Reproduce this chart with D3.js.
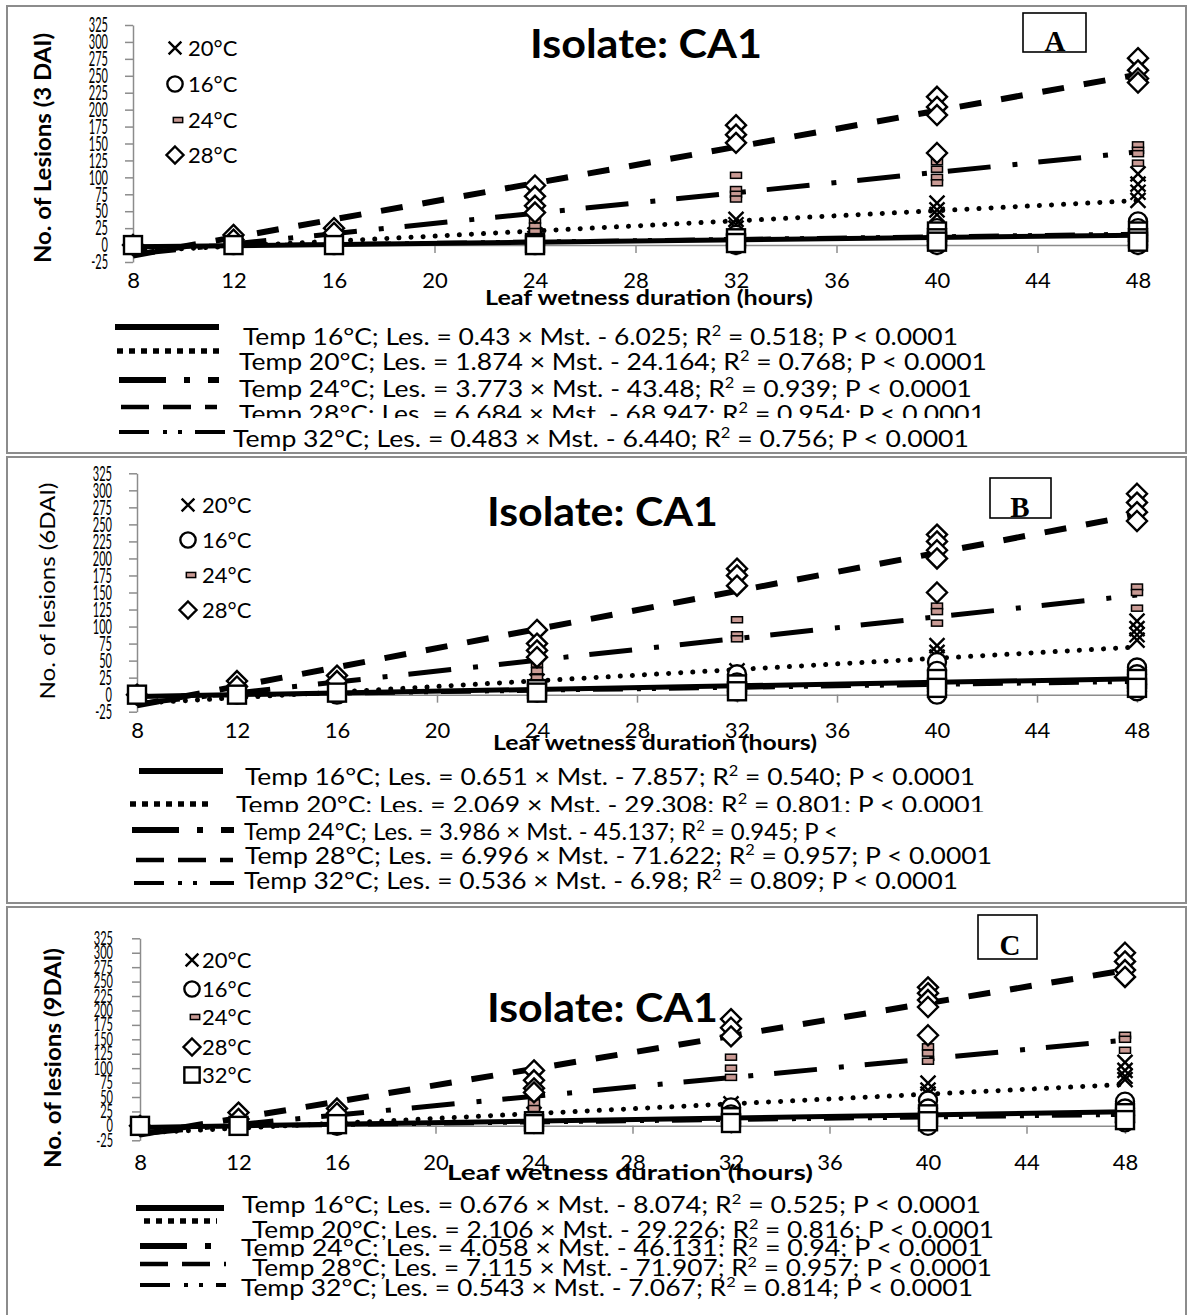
<!DOCTYPE html>
<html>
<head>
<meta charset="utf-8">
<script src="https://cdn.jsdelivr.net/npm/d3@7"></script>
<style>
body { margin: 0; background: #fff; }
text { fill: #000; }
</style>
</head>
<body>
<svg id="fig" width="1189" height="1315" font-family="Lato, 'Open Sans', sans-serif"></svg>
<script>
// ---- data ----
var hours = [8, 12, 16, 24, 32, 40, 48] ;
var xTickValues = [8, 12, 16, 20, 24, 28, 32, 36, 40, 44, 48] ;
var yTickValues = [-25, 0, 25, 50, 75, 100, 125, 150, 175, 200, 225, 250, 275, 300, 325] ;
var tempLabels = ['20°C', '16°C', '24°C', '28°C', '32°C'] ;   // series order

// replicate lesion counts, one inner list per entry of hours
var a20 = [[0], [2, 0], [5, 2], [15, 10], [38, 30, 25], [62, 52, 45], [105, 90, 78, 66]] ;
var a16 = [[0], [0], [0], [5, 0], [15, 5, 0], [25, 15, 5, 0], [35, 25, 15, 5, 0]] ;
var a24 = [[0], [3], [10, 5], [37, 28, 20], [103, 82, 75, 68], [123, 112, 100, 92], [148, 140, 135, 121]] ;
var a28 = [[0], [15, 8], [25, 18], [88, 72, 58, 48], [177, 163, 151], [219, 204, 192, 136], [276, 258, 246, 240]] ;
var a32 = [[0], [0], [0], [3, 0], [10, 3], [20, 10, 5], [20, 10, 5]] ;

var b20 = [[0], [3, 0], [8, 3], [20, 12], [35, 25], [72, 62, 55], [108, 97, 88, 80]] ;
var b16 = [[0], [0], [3, 0], [8, 3], [30, 18, 5], [48, 35, 20, 5, 0], [40, 30, 15, 5]] ;
var b24 = [[0], [5], [12, 6], [45, 35, 25], [110, 88, 82], [130, 122, 105], [158, 150, 127]] ;
var b28 = [[0], [20, 12], [28, 20], [95, 75, 65, 55], [185, 175, 160], [235, 225, 212, 200, 150], [295, 282, 268, 255]] ;
var b32 = [[0], [0], [3], [8, 3], [15, 5], [23, 10], [23, 10]] ;

var c20 = [[0], [3, 0], [8, 3], [20, 12], [38, 28], [74, 62, 55], [110, 96, 86, 80]] ;
var c16 = [[0], [0], [3, 0], [10, 3], [32, 20, 5], [44, 30, 15, 0], [42, 30, 18, 6]] ;
var c24 = [[0], [5], [12, 6], [53, 40, 30], [119, 100, 84], [137, 126, 112], [157, 150, 131]] ;
var c28 = [[0], [23, 12], [30, 22], [96, 79, 65, 58], [185, 170, 155], [240, 230, 218, 206, 157], [300, 285, 270, 258]] ;
var c32 = [[0], [0], [3], [8, 3], [15, 5], [20, 8], [22, 10]] ;

// fitted lines, order 16, 20, 24, 28, 32 °C
var slopeA = [0.43, 1.874, 3.773, 6.684, 0.483] ;
var interA = [-6.025, -24.164, -43.48, -68.947, -6.44] ;
var slopeB = [0.651, 2.069, 3.986, 6.996, 0.536] ;
var interB = [-7.857, -29.308, -45.137, -71.622, -6.98] ;
var slopeC = [0.676, 2.106, 4.058, 7.115, 0.543] ;
var interC = [-8.074, -29.226, -46.131, -71.907, -7.067] ;

var eqA = [
	'Temp 16°C; Les. = 0.43 × Mst. - 6.025; R² = 0.518; P < 0.0001',
	'Temp 20°C; Les. = 1.874 × Mst. - 24.164; R² = 0.768; P < 0.0001',
	'Temp 24°C; Les. = 3.773 × Mst. - 43.48; R² = 0.939; P < 0.0001',
	'Temp 28°C; Les. = 6.684 × Mst. - 68.947; R² = 0.954; P < 0.0001',
	'Temp 32°C; Les. = 0.483 × Mst. - 6.440; R² = 0.756; P < 0.0001'
] ;
var eqB = [
	'Temp 16°C; Les. = 0.651 × Mst. - 7.857; R² = 0.540; P < 0.0001',
	'Temp 20°C; Les. = 2.069 × Mst. - 29.308; R² = 0.801; P < 0.0001',
	'Temp 24°C; Les. = 3.986 × Mst. - 45.137; R² = 0.945; P <',
	'Temp 28°C; Les. = 6.996 × Mst. - 71.622; R² = 0.957; P < 0.0001',
	'Temp 32°C; Les. = 0.536 × Mst. - 6.98; R² = 0.809; P < 0.0001'
] ;
var eqC = [
	'Temp 16°C; Les. = 0.676 × Mst. - 8.074; R² = 0.525; P < 0.0001',
	'Temp 20°C; Les. = 2.106 × Mst. - 29.226; R² = 0.816; P < 0.0001',
	'Temp 24°C; Les. = 4.058 × Mst. - 46.131; R² = 0.94; P < 0.0001',
	'Temp 28°C; Les. = 7.115 × Mst. - 71.907; R² = 0.957; P < 0.0001',
	'Temp 32°C; Les. = 0.543 × Mst. - 7.067; R² = 0.814; P < 0.0001'
] ;

// ---- styles ----
var GRAY = '#8c8c8c' ;
var shapes = ['cross', 'circle', 'dash', 'diamond', 'square'] ;
// trend line styles, order 16, 20, 24, 28, 32
var plotDash = [null, '0.1,12', '43,22,5,21', '22,20', '30,14,4,11,4,13'] ;
var plotWidth = [5, 5, 5, 6, 4] ;
var plotCap = ['butt', 'round', 'butt', 'butt', 'butt'] ;
var legDash = [null, '6,6', '47,18,6,18', '28,14', '30,14,4,11,4,13'] ;
var legWidth = [6, 5.5, 6, 4.5, 4] ;

var svg = d3.select('#fig') ;
var clipId = 0 ;

function marker(g, shape, cx, cy, k) {
	if ( shape == 'cross' ) {
		var s = 7.5 * k ;
		g.append('path').attr('d', 'M' + (cx-s) + ',' + (cy-s) + 'L' + (cx+s) + ',' + (cy+s) + 'M' + (cx-s) + ',' + (cy+s) + 'L' + (cx+s) + ',' + (cy-s))
			.attr('stroke', '#000').attr('stroke-width', 2.4).attr('fill', 'none') ;
	} else if ( shape == 'circle' ) {
		g.append('circle').attr('cx', cx).attr('cy', cy).attr('r', 9 * k)
			.attr('fill', '#fff').attr('stroke', '#000').attr('stroke-width', 2.4) ;
	} else if ( shape == 'dash' ) {
		g.append('rect').attr('x', cx - 5.5 * k).attr('y', cy - 3 * k).attr('width', 11 * k).attr('height', 6 * k)
			.attr('fill', '#c99a94').attr('stroke', '#000').attr('stroke-width', 1.5) ;
	} else if ( shape == 'diamond' ) {
		var d = 10 * k ;
		g.append('path').attr('d', 'M' + cx + ',' + (cy-d) + 'L' + (cx+d) + ',' + cy + 'L' + cx + ',' + (cy+d) + 'L' + (cx-d) + ',' + cy + 'Z')
			.attr('fill', '#fff').attr('stroke', '#000').attr('stroke-width', 2.4) ;
	} else {
		var q = 9 * k ;
		g.append('rect').attr('x', cx - q).attr('y', cy - q).attr('width', 2*q).attr('height', 2*q)
			.attr('fill', '#fff').attr('stroke', '#000').attr('stroke-width', 2.4) ;
	}
}

function drawPanel(cfg, series, slopes, inters, eqTexts) {
	var g = svg.append('g') ;
	var f = cfg.frame ;
	g.append('rect').attr('x', f[0]).attr('y', f[1]).attr('width', f[2]-f[0]).attr('height', f[3]-f[1])
		.attr('fill', 'none').attr('stroke', GRAY).attr('stroke-width', 2) ;

	var x = d3.scaleLinear().domain([8, 48]).range([cfg.x0, cfg.x1]) ;
	var y = d3.scaleLinear().domain([-25, 325]).range([cfg.yBot, cfg.yTop]) ;

	// y axis
	var ya = g.append('g').attr('transform', 'translate(' + cfg.x0 + ',0)')
		.call(d3.axisLeft(y).tickValues(yTickValues).tickSize(8).tickSizeOuter(0)
			.tickPadding(cfg.x0 - 8 - cfg.yLabelRight).tickFormat(function(d) { return String(d) ; })) ;
	ya.attr('font-family', null).attr('font-size', null) ;
	ya.select('.domain').attr('stroke', GRAY).attr('stroke-width', 1.5) ;
	ya.selectAll('.tick line').attr('stroke', GRAY).attr('stroke-width', 1.5) ;
	ya.selectAll('.tick text').attr('font-size', cfg.yTickFont).attr('fill', '#000')
		.attr('textLength', function(d) { return String(Math.abs(d)).length * 6.4 + (d < 0 ? 4 : 0) ; })
		.attr('lengthAdjust', 'spacingAndGlyphs') ;

	// x axis crossing at 0, labels low
	var xa = g.append('g').attr('transform', 'translate(0,' + y(0) + ')')
		.call(d3.axisBottom(x).tickValues(xTickValues).tickSize(8).tickSizeOuter(0)) ;
	xa.attr('font-family', null).attr('font-size', null) ;
	xa.select('.domain').attr('stroke', GRAY).attr('stroke-width', 1.5) ;
	xa.selectAll('.tick line').attr('stroke', GRAY).attr('stroke-width', 1.5) ;
	xa.selectAll('.tick text').attr('y', cfg.xLabelY - y(0)).attr('dy', null)
		.attr('font-size', 22).attr('fill', '#000') ;

	// trend lines
	var line = d3.line().x(function(d) { return x(d[0]) ; }).y(function(d) { return y(d[1]) ; }) ;
	for ( var i = 0 ; i < slopes.length ; ++i ) {
		var pts = [8, 48].map(function(h) { return [h, slopes[i] * h + inters[i]] ; }) ;
		g.append('path').attr('d', line(pts)).attr('fill', 'none').attr('stroke', '#000')
			.attr('stroke-width', plotWidth[i]).attr('stroke-linecap', plotCap[i])
			.attr('stroke-dasharray', plotDash[i]) ;
	}

	// markers
	var mg = g.append('g') ;
	series.forEach(function(s, si) {
		hours.forEach(function(h, hi) {
			s[hi].forEach(function(v) { marker(mg, shapes[si], x(h), y(v), 1) ; }) ;
		}) ;
	}) ;

	// marker legend
	var L = cfg.legend ;
	for ( var j = 0 ; j < L.n ; ++j ) {
		marker(g, shapes[j], L.mx + (shapes[j] == 'dash' ? 3 : 0), L.ys[j], 0.85) ;
		g.append('text').attr('x', L.tx).attr('y', L.ys[j]).attr('dy', '0.36em')
			.attr('font-size', L.font).text(tempLabels[j]) ;
	}

	// equation legend
	var e = cfg.eq ;
	eqTexts.forEach(function(s, k) {
		g.append('line').attr('x1', e.lx1[k]).attr('x2', e.lx2[k]).attr('y1', e.ly[k]).attr('y2', e.ly[k])
			.attr('stroke', '#000').attr('stroke-width', legWidth[k]).attr('stroke-dasharray', legDash[k]) ;
		var parts = s.split('²') ;
		var t = g.append('text').attr('x', e.tx[k]).attr('y', e.ty[k]).attr('font-size', e.font)
			.attr('textLength', e.tend[k] - e.tx[k]).attr('lengthAdjust', 'spacingAndGlyphs') ;
		t.append('tspan').text(parts[0]) ;
		t.append('tspan').attr('dy', -9).attr('font-size', e.font * 0.62).text('2') ;
		t.append('tspan').attr('dy', 9).text(parts[1]) ;
		if ( e.clip[k] ) {
			var id = 'clip' + (clipId++) ;
			g.append('clipPath').attr('id', id).append('rect')
				.attr('x', 0).attr('y', e.ty[k] - 40).attr('width', 1189).attr('height', e.clip[k] - e.ty[k] + 40) ;
			t.attr('clip-path', 'url(#' + id + ')') ;
		}
	}) ;

	// titles
	var T = cfg.title ;
	g.append('text').attr('x', T.x1).attr('y', T.y).attr('font-size', 40).attr('font-weight', 'bold')
		.attr('textLength', T.x2 - T.x1).attr('lengthAdjust', 'spacingAndGlyphs').text('Isolate: CA1') ;
	var X = cfg.xTitle ;
	g.append('text').attr('x', X.x1).attr('y', X.y).attr('font-size', 21).attr('font-weight', 'bold')
		.attr('textLength', X.x2 - X.x1).attr('lengthAdjust', 'spacingAndGlyphs').text('Leaf wetness duration (hours)') ;
	var Y = cfg.yTitle ;
	g.append('text').attr('transform', 'translate(' + Y.x + ',' + Y.y + ') rotate(-90)')
		.attr('text-anchor', 'middle').attr('dy', '0.35em').attr('font-size', 22)
		.attr('font-weight', Y.bold ? 'bold' : 'normal')
		.attr('textLength', Y.len).attr('lengthAdjust', 'spacingAndGlyphs').text(Y.text) ;

	// panel letter
	var B = cfg.box ;
	g.append('rect').attr('x', B.x).attr('y', B.y).attr('width', B.w).attr('height', B.h)
		.attr('fill', '#fff').attr('stroke', '#000').attr('stroke-width', 1.6) ;
	g.append('text').attr('x', B.lx).attr('y', B.ly).attr('text-anchor', 'middle')
		.attr('font-family', "'Liberation Serif', 'DejaVu Serif', serif").attr('font-weight', 'bold').attr('font-size', 29)
		.text(B.letter) ;
}

var cfgA = {
	frame: [7, 6, 1186, 453],
	x0: 133, x1: 1138, yTop: 25, yBot: 262, yTickFont: 21,
	xLabelY: 288, yLabelRight: 108,
	yTitle: { text: 'No. of Lesions (3 DAI)', x: 43, y: 148, len: 230, bold: true },
	xTitle: { x1: 485, x2: 813, y: 305 },
	title: { x1: 530, x2: 762, y: 58 },
	box: { x: 1023, y: 13, w: 63, h: 39, letter: 'A', lx: 1055, ly: 51 },
	legend: { mx: 175, tx: 188, ys: [48, 84, 120, 155], n: 4, font: 22 },
	eq: {
		lx1: [115, 117, 119, 121, 119], lx2: [219, 219, 219, 217, 225], ly: [327, 351, 380, 407, 432],
		tx: [243, 239, 239, 239, 233], ty: [345, 370, 397, 422, 447], tend: [958, 987, 972, 985, 969],
		clip: [null, null, 400, 418, null], font: 24
	}
} ;
var cfgB = {
	frame: [7, 457, 1186, 903],
	x0: 137, x1: 1137, yTop: 473.3, yBot: 711.7, yTickFont: 21,
	xLabelY: 738, yLabelRight: 112,
	yTitle: { text: 'No. of lesions (6DAI)', x: 47, y: 591, len: 217, bold: false },
	xTitle: { x1: 493, x2: 817, y: 750 },
	title: { x1: 487, x2: 718, y: 526 },
	box: { x: 990, y: 478, w: 61, h: 40, letter: 'B', lx: 1020, ly: 517 },
	legend: { mx: 188, tx: 202, ys: [505, 540, 575, 610], n: 4, font: 22 },
	eq: {
		lx1: [139, 130, 132, 136, 134], lx2: [223, 211, 234, 233, 234], ly: [771, 804, 830, 860, 883],
		tx: [245, 236, 244, 245, 244], ty: [785, 813, 840, 864, 889], tend: [975, 985, 838, 992, 958],
		clip: [787, 812, null, null, null], font: 24
	}
} ;
var cfgC = {
	frame: [7, 907, 1186, 1330],
	x0: 140, x1: 1125, yTop: 938.3, yBot: 1140.3, yTickFont: 19,
	xLabelY: 1170, yLabelRight: 113,
	yTitle: { text: 'No. of lesions (9DAI)', x: 53, y: 1058, len: 220, bold: true },
	xTitle: { x1: 447, x2: 813, y: 1180 },
	title: { x1: 487, x2: 718, y: 1022 },
	box: { x: 978, y: 915, w: 59, h: 44, letter: 'C', lx: 1010, ly: 955 },
	legend: { mx: 192, tx: 202, ys: [960, 989, 1017, 1047, 1075], n: 5, font: 22 },
	eq: {
		lx1: [136, 144, 140, 140, 140], lx2: [224, 217, 226, 226, 226], ly: [1208, 1221, 1246, 1264, 1285],
		tx: [242, 252, 241, 252, 241], ty: [1213, 1238, 1256, 1276, 1296], tend: [981, 994, 983, 992, 973],
		clip: [null, 1240, 1257, null, null], font: 23
	}
} ;

drawPanel(cfgA, [a20, a16, a24, a28, a32], slopeA, interA, eqA) ;
drawPanel(cfgB, [b20, b16, b24, b28, b32], slopeB, interB, eqB) ;
drawPanel(cfgC, [c20, c16, c24, c28, c32], slopeC, interC, eqC) ;
</script>
</body>
</html>
